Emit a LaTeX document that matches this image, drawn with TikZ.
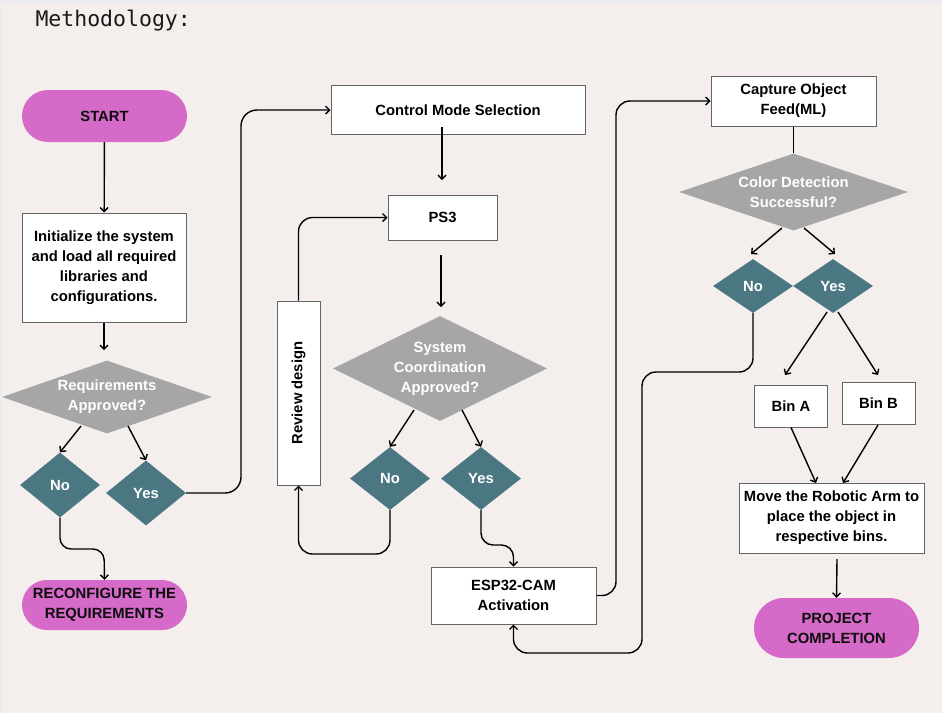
\documentclass[tikz,border=0pt]{standalone}
\usepackage{fontspec}
\setmainfont{Liberation Sans}
\newfontfamily\titlefont{DejaVu Sans Mono}
\usetikzlibrary{arrows.meta,shapes.geometric,shapes.misc}

\definecolor{pagebg}{RGB}{244,239,237}
\definecolor{edgebg}{RGB}{236,236,240}
\definecolor{termfill}{RGB}{214,106,200}
\definecolor{askfill}{RGB}{166,166,166}
\definecolor{ansfill}{RGB}{74,119,130}
\definecolor{boxline}{RGB}{100,100,100}

\tikzset{
  x=1pt, y=-1pt,
  txt/.style={font=\fontsize{14.8}{20}\selectfont\bfseries, align=center},
  terminal/.style={txt, rounded rectangle, fill=termfill, inner sep=0pt, text=black!95},
  stepbox/.style={txt, rectangle, draw=boxline, line width=1pt, fill=white, inner sep=0pt},
  askdiamond/.style={diamond, fill=askfill, inner sep=0pt},
  ansdiamond/.style={diamond, fill=ansfill, inner sep=0pt, minimum width=80pt, minimum height=65pt},
  dtext/.style={txt, text=white},
  flow/.style={line width=1.4pt, -{Straight Barb[length=4pt,width=8pt]}},
  plain/.style={line width=1.4pt},
  loop/.style={flow, rounded corners=14pt},
}

\begin{document}
\begin{tikzpicture}
% page
\fill[pagebg] (0,0) rectangle (942,713);
\fill[edgebg] (0,0) rectangle (942,4);
\fill[edgebg] (0,0) rectangle (2,713);
\useasboundingbox (0,0) rectangle (942,713);

\node[anchor=base west, font=\titlefont\fontsize{21.5}{24}\selectfont, text=black!90] (title) at (32,26.5) {Methodology:};

% ---- column 1
\node[terminal, minimum width=165pt, minimum height=52pt] (start) at (104.5,116) {START};
\node[stepbox, minimum width=164pt, minimum height=109pt] (init) at (104,267.5)
  {Initialize the system\\and load all required\\libraries and\\configurations.};
\node[askdiamond, minimum width=210pt, minimum height=73pt] (req) at (107,397) {};
\node[dtext] at (req) {Requirements\\Approved?};
\node[ansdiamond] (no1) at (60,485) {};
\node[dtext] at (no1) {No};
\node[ansdiamond] (yes1) at (146,493) {};
\node[dtext] at (yes1) {Yes};
\node[terminal, minimum width=165pt, minimum height=50pt] (reconf) at (104.5,605)
  {RECONFIGURE THE\\REQUIREMENTS};

% ---- column 2
\node[stepbox, minimum width=254pt, minimum height=49pt] (cms) at (458,110) {Control Mode Selection};
\node[stepbox, minimum width=109pt, minimum height=45pt] (ps3) at (442.5,217.5) {PS3};
\node[askdiamond, minimum width=214pt, minimum height=105pt] (sys) at (440,368.5) {};
\node[dtext] at (sys) {System\\Coordination\\Approved?};
\node[ansdiamond, minimum height=63pt] (no2) at (390,478.5) {};
\node[dtext] at (no2) {No};
\node[ansdiamond, minimum height=63pt] (yes2) at (481,478.5) {};
\node[dtext] at (yes2) {Yes};
\node[stepbox, minimum width=43pt, minimum height=184pt] (review) at (298.5,393) {};
\node[txt, rotate=90] at (review) {Review design};
\node[stepbox, minimum width=165pt, minimum height=57pt] (esp) at (513.5,595.5) {ESP32-CAM\\Activation};

% ---- column 3
\node[stepbox, minimum width=165pt, minimum height=50pt] (cap) at (793.5,101) {Capture Object\\Feed(ML)};
\node[askdiamond, minimum width=229pt, minimum height=77pt] (col) at (793.5,192) {};
\node[dtext] at (col) {Color Detection\\Successful?};
\node[ansdiamond, minimum height=54pt] (no3) at (753,286) {};
\node[dtext] at (no3) {No};
\node[ansdiamond, minimum height=54pt] (yes3) at (833,286) {};
\node[dtext] at (yes3) {Yes};
\node[stepbox, minimum width=73pt, minimum height=42pt] (bina) at (791,406) {Bin A};
\node[stepbox, minimum width=73pt, minimum height=42pt] (binb) at (878.5,403) {Bin B};
\node[stepbox, minimum width=185pt, minimum height=70pt] (move) at (831.5,518)
  {Move the Robotic Arm to\\place the object in\\respective bins.};
\node[terminal, minimum width=165pt, minimum height=60pt] (done) at (836.5,628)
  {PROJECT\\COMPLETION};

% ---- connectors, column 1
\draw[flow] (start) -- (init);
\draw[flow] (init) -- (104,350);
\draw[flow] (81,426) -- (no1.north);
\draw[flow] (128,426) -- (yes1.north);
\draw[loop, rounded corners=11pt] (no1.south) -- (60,549) -- (104,549) -- (reconf.north);
\draw[loop, rounded corners=16pt] (yes1.east) -- (241,493) -- (241,110) -- (cms.west);

% ---- connectors, column 2
\draw[flow] (442,127) -- (442,180);
\draw[flow] (441,255) -- (441,307);
\draw[flow] (414,410) -- (no2.north);
\draw[flow] (462,410) -- (yes2.north);
\draw[loop] (no2.south) -- (390,554) -- (298.5,554) -- (review.south);
\draw[loop] (review.north) -- (298.5,217.5) -- (ps3.west);
\draw[loop, rounded corners=12pt] (yes2.south) -- (481,545) -- (513.5,545) -- (esp.north);
\draw[loop] (esp.east) -- (616,595.5) -- (616,101) -- (cap.west);
\draw[loop] (no3.south) -- (753,372) -- (642,372) -- (642,653) -- (513.5,653) -- (esp.south);

% ---- connectors, column 3
\draw[plain] (cap.south) -- (col.north);
\draw[flow] (782,228) -- (751,254);
\draw[flow] (804,228) -- (835,254);
\draw[flow] (827,312) -- (785,375);
\draw[flow] (838,312) -- (878,375);
\draw[flow] (bina.south) -- (816,483);
\draw[flow] (878,425) -- (843,483);
\draw[flow] (837,559) -- (done.north);
\end{tikzpicture}
\end{document}
